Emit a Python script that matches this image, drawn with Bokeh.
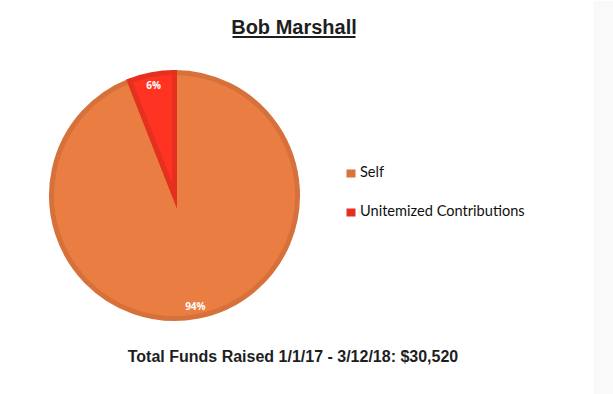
import numpy as np
from bokeh.plotting import figure
from bokeh.models import Range1d
from bokeh.core.properties import value
from bokeh.embed import file_html
from bokeh.resources import INLINE

# ---- data ----
title = "Bob Marshall"
categories = ["Self", "Unitemized Contributions"]
amounts = [28700, 1820]
pct_labels = ["94%", "6%"]
footer = "Total Funds Raised 1/1/17 - 3/12/18: $30,520"

fill_colors = ["#ea7d42", "#fe3322"]
line_colors = ["#d6713b", "#e52f1f"]
legend_colors = ["#d8733c", "#e4301e"]

W, H = 613, 394
p = figure(width=W, height=H, output_backend="svg", toolbar_location=None,
           x_range=Range1d(0, W), y_range=Range1d(0, H), min_border=0)
p.axis.visible = False
p.grid.visible = False
p.outline_line_color = None
p.background_fill_color = "white"
p.border_fill_color = "white"

# gray strip on the right
p.quad(left=[593], right=[W], bottom=[0], top=[H], fill_color="#f9f9f9", line_color=None)

# ---- pie ----
cx, cy, R = 174, 199, 123
vals = np.array(amounts, dtype=float)
frac = vals / vals.sum()
ang = frac * 2 * np.pi
top = np.pi / 2
starts = [top - ang[0], top]
ends = [top, top + ang[1]]
for i in range(2):
    p.wedge(x=[cx], y=[cy], radius=R, start_angle=starts[i], end_angle=ends[i],
            fill_color=fill_colors[i], line_color=line_colors[i], line_width=5,
            line_join="miter")

# percentage labels
mids = [(starts[i] + ends[i]) / 2 for i in range(2)]
lr = 112
lx = [cx + lr * np.cos(m) for m in mids]
ly = [cy + lr * np.sin(m) for m in mids]
p.text(x=lx, y=ly, text=pct_labels, text_color="white", text_font=value("Open Sans"),
       text_font_style="bold", text_font_size="10px", text_align="center",
       text_baseline="middle")

# ---- legend ----
leg_x = 350.5
leg_y = [221, 182]
p.rect(x=[leg_x] * 2, y=leg_y, width=9, height=8, width_units="screen",
       height_units="screen", fill_color=legend_colors, line_color=None)
p.text(x=[359.5] * 2, y=[y + 1.8 for y in leg_y], text=categories, text_color="#111111",
       text_font=value("Lato"), text_font_size="14.6px", text_align="left",
       text_baseline="middle")

# ---- title ----
p.text(x=[293.5], y=[368], text=[title], text_color="#1e1e1e",
       text_font=value("Liberation Sans"), text_font_style="bold",
       text_font_size="20px", text_align="center", text_baseline="middle")
p.segment(x0=[232], y0=[357.5], x1=[355], y1=[357.5], line_color="#1e1e1e", line_width=2)

# ---- footer ----
p.text(x=[292.5], y=[38.3], text=[footer], text_color="#1e1e1e",
       text_font=value("Liberation Sans"), text_font_style="bold",
       text_font_size="16px", text_align="center", text_baseline="middle")

open("out.html", "w").write(file_html(p, INLINE))
